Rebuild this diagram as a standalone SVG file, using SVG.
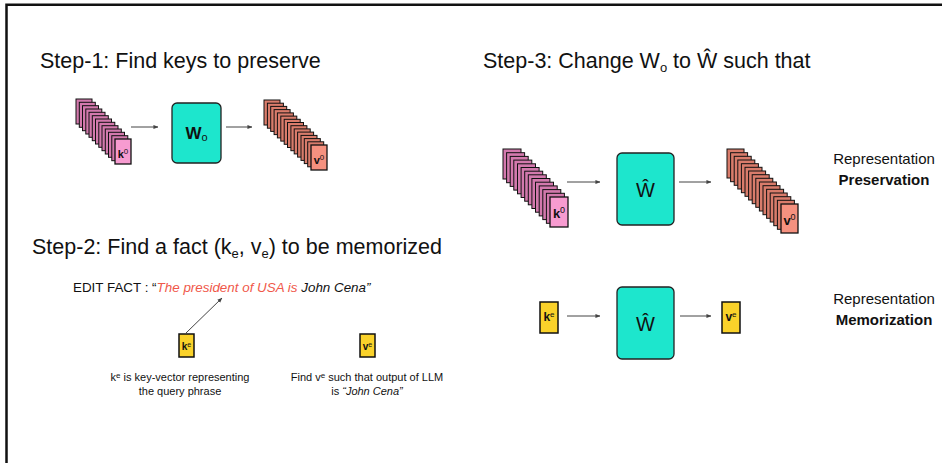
<svg xmlns="http://www.w3.org/2000/svg" xmlns:xlink="http://www.w3.org/1999/xlink" width="942" height="463" viewBox="0 0 942 463">
  <style>
    text { font-family: "Liberation Sans", Arial, Helvetica, sans-serif; fill: #111; }
    .title { font-size: 21.5px; }
    .lbl { font-size: 15px; }
    .cap { font-size: 11px; }
    .kb { fill: #d379ad; stroke: #111; stroke-width: 1; }
    .kf { fill: #f79bd0; stroke: #111; stroke-width: 1.3; }
    .vb { fill: #d97c6b; stroke: #111; stroke-width: 1; }
    .vf { fill: #f5917f; stroke: #111; stroke-width: 1.3; }
    .mat { fill: #1de6cd; stroke: #222; stroke-width: 1.3; }
    .yel { fill: #fad22a; stroke: #111; stroke-width: 1.5; }
    .arr { stroke: #444; stroke-width: 1; fill: none; marker-end: url(#ah); }
    .frame { stroke: #111; stroke-width: 2.5; fill: none; }
  </style>
  <defs>
    <marker id="ah" viewBox="0 0 6 6" refX="5.5" refY="3" markerWidth="5" markerHeight="5" orient="auto" markerUnits="userSpaceOnUse">
      <path d="M0,0.6 L6,3 L0,5.4 Z" fill="#444"/>
    </marker>
    <rect id="c1" width="16" height="25"/>
    <rect id="c3k" width="18" height="30"/>
    <rect id="c3v" width="17" height="29"/>
  </defs>

  <rect width="942" height="463" fill="#fff"/>
  <!-- page frame (top and left edges) -->
  <path class="frame" d="M6.5,463 V4.8 H942"/>

  <!-- titles -->
  <text class="title" x="40" y="68">Step-1: Find keys to preserve</text>
  <text class="title" x="483" y="68">Step-3: Change W<tspan font-size="13" dy="4">o</tspan><tspan dy="-4"> to Ŵ such that</tspan></text>
  <text class="title" x="32" y="254">Step-2: Find a fact (k<tspan font-size="13" dy="4">e</tspan><tspan dy="-4">, v</tspan><tspan font-size="13" dy="4">e</tspan><tspan dy="-4">) to be memorized</tspan></text>

  <!-- Step-1: key stack k0 -->
  <g id="step1-keys">
    <use href="#c1" class="kb" x="76" y="99"/>
    <use href="#c1" class="kb" x="79.3" y="102.3"/>
    <use href="#c1" class="kb" x="82.5" y="105.7"/>
    <use href="#c1" class="kb" x="85.8" y="109"/>
    <use href="#c1" class="kb" x="89" y="112.3"/>
    <use href="#c1" class="kb" x="92.3" y="115.7"/>
    <use href="#c1" class="kb" x="95.5" y="119"/>
    <use href="#c1" class="kb" x="98.8" y="122.3"/>
    <use href="#c1" class="kb" x="102" y="125.7"/>
    <use href="#c1" class="kb" x="105.3" y="129"/>
    <use href="#c1" class="kb" x="108.5" y="132.3"/>
    <use href="#c1" class="kb" x="111.8" y="135.7"/>
    <use href="#c1" class="kf" x="115" y="139"/>
    <text x="123" y="157.5" font-size="11" font-weight="bold" text-anchor="middle">k<tspan font-size="8" font-weight="normal" dy="-4">0</tspan></text>
  </g>

  <!-- Step-1: weight matrix Wo -->
  <g id="step1-matrix">
    <rect class="mat" x="172" y="103" width="49" height="60" rx="5"/>
    <text x="196.5" y="139" font-size="17" font-weight="bold" text-anchor="middle">W<tspan font-size="11" font-weight="normal" dy="2">o</tspan></text>
  </g>

  <!-- Step-1: value stack v0 -->
  <g id="step1-values">
    <use href="#c1" class="vb" x="264" y="100"/>
    <use href="#c1" class="vb" x="267.4" y="103.2"/>
    <use href="#c1" class="vb" x="270.7" y="106.4"/>
    <use href="#c1" class="vb" x="274.1" y="109.6"/>
    <use href="#c1" class="vb" x="277.4" y="112.9"/>
    <use href="#c1" class="vb" x="280.8" y="116.1"/>
    <use href="#c1" class="vb" x="284.2" y="119.3"/>
    <use href="#c1" class="vb" x="287.5" y="122.5"/>
    <use href="#c1" class="vb" x="290.9" y="125.7"/>
    <use href="#c1" class="vb" x="294.2" y="128.9"/>
    <use href="#c1" class="vb" x="297.6" y="132.1"/>
    <use href="#c1" class="vb" x="301" y="135.4"/>
    <use href="#c1" class="vb" x="304.3" y="138.6"/>
    <use href="#c1" class="vb" x="307.7" y="141.8"/>
    <use href="#c1" class="vf" x="311" y="145"/>
    <text x="319" y="163.5" font-size="11" font-weight="bold" text-anchor="middle">v<tspan font-size="8" font-weight="normal" dy="-4">0</tspan></text>
  </g>

  <!-- Step-2: edit fact -->
  <g id="step2-fact">
    <text x="73" y="292" font-size="13.4">EDIT FACT : “<tspan font-style="italic" fill="#f0584a">The president of USA is </tspan><tspan font-style="italic">John Cena”</tspan></text>
  </g>

  <g id="step2-key">
    <rect class="yel" x="179" y="334" width="15" height="23"/>
    <text x="186.5" y="349.5" font-size="10" font-weight="bold" text-anchor="middle">k<tspan font-size="7" font-weight="normal" dy="-3">e</tspan></text>
    <text class="cap" x="180" y="381" text-anchor="middle">k<tspan font-size="8" dy="-3">e</tspan><tspan dy="3"> is key-vector representing</tspan></text>
    <text class="cap" x="180" y="395" text-anchor="middle">the query phrase</text>
  </g>

  <g id="step2-value">
    <rect class="yel" x="360" y="334" width="15" height="23"/>
    <text x="367.5" y="349.5" font-size="10" font-weight="bold" text-anchor="middle">v<tspan font-size="7" font-weight="normal" dy="-3">e</tspan></text>
    <text class="cap" x="367" y="381" text-anchor="middle">Find v<tspan font-size="8" dy="-3">e</tspan><tspan dy="3"> such that output of LLM</tspan></text>
    <text class="cap" x="367" y="395" text-anchor="middle">is <tspan font-style="italic">“John Cena”</tspan></text>
  </g>

  <!-- Step-3: preservation row -->
  <g id="step3-keys">
    <use href="#c3k" class="kb" x="503" y="149"/>
    <use href="#c3k" class="kb" x="506.6" y="152.7"/>
    <use href="#c3k" class="kb" x="510.2" y="156.4"/>
    <use href="#c3k" class="kb" x="513.8" y="160.1"/>
    <use href="#c3k" class="kb" x="517.5" y="163.8"/>
    <use href="#c3k" class="kb" x="521.1" y="167.5"/>
    <use href="#c3k" class="kb" x="524.7" y="171.2"/>
    <use href="#c3k" class="kb" x="528.3" y="174.8"/>
    <use href="#c3k" class="kb" x="531.9" y="178.5"/>
    <use href="#c3k" class="kb" x="535.5" y="182.2"/>
    <use href="#c3k" class="kb" x="539.2" y="185.9"/>
    <use href="#c3k" class="kb" x="542.8" y="189.6"/>
    <use href="#c3k" class="kb" x="546.4" y="193.3"/>
    <use href="#c3k" class="kf" x="550" y="197"/>
    <text x="559" y="218" font-size="13" font-weight="bold" text-anchor="middle">k<tspan font-size="9" font-weight="normal" dy="-5">0</tspan></text>
  </g>

  <g id="step3-matrix-top">
    <rect class="mat" x="617" y="153" width="57" height="72" rx="5"/>
    <text x="645.5" y="197" font-size="20" text-anchor="middle">Ŵ</text>
  </g>

  <g id="step3-values">
    <use href="#c3v" class="vb" x="727" y="149"/>
    <use href="#c3v" class="vb" x="730.6" y="152.7"/>
    <use href="#c3v" class="vb" x="734.2" y="156.3"/>
    <use href="#c3v" class="vb" x="737.8" y="160"/>
    <use href="#c3v" class="vb" x="741.4" y="163.7"/>
    <use href="#c3v" class="vb" x="745" y="167.3"/>
    <use href="#c3v" class="vb" x="748.6" y="171"/>
    <use href="#c3v" class="vb" x="752.2" y="174.7"/>
    <use href="#c3v" class="vb" x="755.8" y="178.3"/>
    <use href="#c3v" class="vb" x="759.4" y="182"/>
    <use href="#c3v" class="vb" x="763" y="185.7"/>
    <use href="#c3v" class="vb" x="766.6" y="189.3"/>
    <use href="#c3v" class="vb" x="770.2" y="193"/>
    <use href="#c3v" class="vb" x="773.8" y="196.7"/>
    <use href="#c3v" class="vb" x="777.4" y="200.3"/>
    <use href="#c3v" class="vf" x="781" y="204"/>
    <text x="789.5" y="225" font-size="13" font-weight="bold" text-anchor="middle">v<tspan font-size="9" font-weight="normal" dy="-5">0</tspan></text>
  </g>

  <g id="label-preservation">
    <text class="lbl" x="884" y="164" text-anchor="middle">Representation</text>
    <text class="lbl" x="884" y="185" text-anchor="middle" font-weight="bold">Preservation</text>
  </g>

  <!-- Step-3: memorization row -->
  <g id="step3-key-e">
    <rect class="yel" x="540" y="302" width="18" height="31"/>
    <text x="549" y="321" font-size="12" font-weight="bold" text-anchor="middle">k<tspan font-size="8" font-weight="normal" dy="-4">e</tspan></text>
  </g>

  <g id="step3-matrix-bottom">
    <rect class="mat" x="617" y="287" width="57" height="72" rx="5"/>
    <text x="645.5" y="331" font-size="20" text-anchor="middle">Ŵ</text>
  </g>

  <g id="step3-value-e">
    <rect class="yel" x="722" y="302" width="18" height="31"/>
    <text x="731" y="321" font-size="12" font-weight="bold" text-anchor="middle">v<tspan font-size="8" font-weight="normal" dy="-4">e</tspan></text>
  </g>

  <g id="label-memorization">
    <text class="lbl" x="884" y="304" text-anchor="middle">Representation</text>
    <text class="lbl" x="884" y="325" text-anchor="middle" font-weight="bold">Memorization</text>
  </g>

  <!-- connectors -->
  <g id="connectors">
    <line class="arr" x1="131" y1="127" x2="158" y2="127"/>
    <line class="arr" x1="226" y1="127" x2="252" y2="127"/>
    <line class="arr" x1="186" y1="333" x2="222" y2="298"/>
    <line class="arr" x1="567" y1="182" x2="600" y2="182"/>
    <line class="arr" x1="679" y1="182" x2="711" y2="182"/>
    <line class="arr" x1="567" y1="316" x2="600" y2="316"/>
    <line class="arr" x1="680" y1="316" x2="711" y2="316"/>
  </g>
</svg>
